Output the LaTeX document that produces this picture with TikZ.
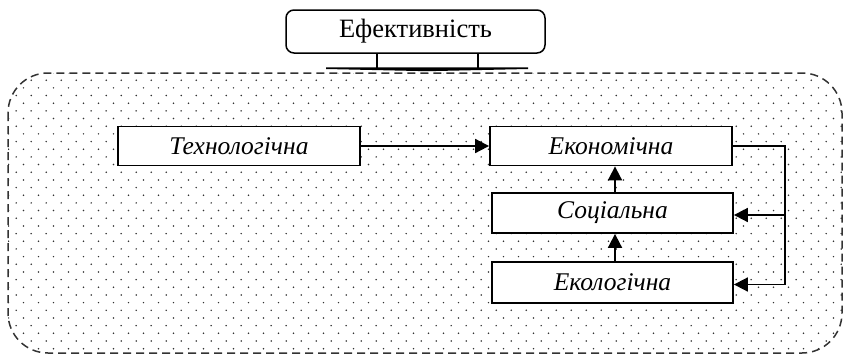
\documentclass[tikz,border=0pt]{standalone}
\usepackage{fontspec}
\setmainfont{Liberation Serif}
\usetikzlibrary{arrows.meta}
\tikzset{
  box/.style={draw=black, line width=1.8pt, fill=white, minimum width=242pt,
    minimum height=39pt, inner sep=0pt, font=\fontsize{25.5}{28}\selectfont\itshape},
  arr/.style={line width=1.8pt, -{Triangle[length=14pt,width=14pt]}},
  link/.style={line width=1.6pt},
  dotmark/.style={fill=black!80},
}
\begin{document}
\begin{tikzpicture}[x=1pt,y=-1pt]
\useasboundingbox (0,0) rectangle (843,356);

% dotted background region
\begin{scope}
  \clip[rounded corners=40pt] (8,73) rectangle (842,353);
  \foreach \j in {-1,...,37}{
    \pgfmathsetmacro{\yy}{80.2+7.67*\j}
    \pgfmathsetmacro{\xo}{isodd(\j) ? 8.5 : 1.2}
    \foreach \i in {0,...,56}{
      \fill[dotmark] ({\xo+15*\i},\yy) circle (0.85pt);
    }
  }
\end{scope}
\draw[black!80, line width=1.5pt, dash pattern=on 8pt off 5pt, rounded corners=40pt]
  (8,73) rectangle (842,353);

% top heading block with its bracket
\node[draw=black, line width=1.5pt, fill=white, rounded corners=8pt,
  minimum width=259pt, minimum height=43pt, inner sep=0pt,
  font=\fontsize{26.5}{30}\selectfont] (eff) at (415.5,31.5) {Ефективність};
\coordinate (sl) at (377,68);
\coordinate (sr) at (478,68);
\draw[link] (sl |- eff.south) -- (sl);
\draw[link] (sr |- eff.south) -- (sr);
\fill[black] (326,67.3) -- (528,67.3) -- (528,69) -- (427,71.2) -- (326,69) -- cycle;

% kinds of efficiency
\node[box] (tech) at (239,146) {Технологічна};
\node[box] (econ) at (611,146) {Економічна};
\node[box, minimum width=241pt, minimum height=40pt] (soc) at (612.5,213) {Соціальна};
\node[box, minimum width=241pt, minimum height=41pt] (eco) at (612.5,282.5) {Екологічна};

% connectors
\draw[arr] (tech.east) -- (econ.west);
\draw[arr] ([xshift=2.5pt]soc.north) -- ([xshift=2.5pt]soc.north |- econ.south);
\draw[arr] ([xshift=2.5pt]eco.north) -- ([xshift=2.5pt]eco.north |- soc.south);
\coordinate (rx) at (785,146);
\coordinate (socin) at ([yshift=-2pt]soc.east);
\coordinate (ecoin) at ([yshift=-2pt]eco.east);
\draw[arr] (econ.east) -- (rx) |- (ecoin);
\draw[arr] (rx |- socin) -- (socin);
\end{tikzpicture}
\end{document}
